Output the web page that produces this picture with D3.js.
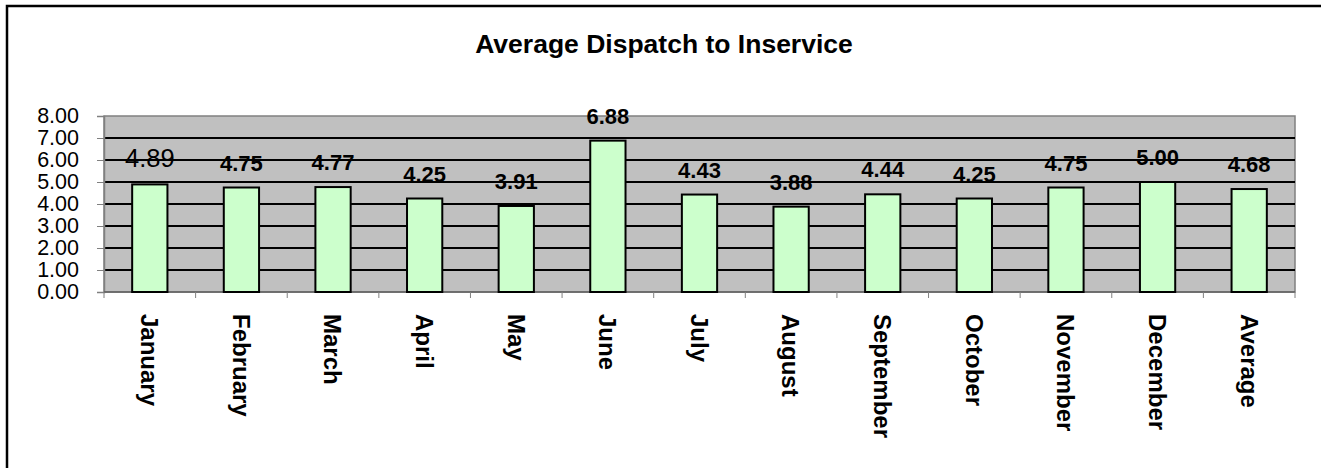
<!DOCTYPE html>
<html lang="en">
<head>
  <meta charset="UTF-8">
  <title>Average Dispatch to Inservice</title>
  <script src="https://d3js.org/d3.v7.min.js"></script>
  <style>
    body {
      margin: 0;
      background: #fff;
      font-family: "Liberation Sans", Arial, sans-serif;
    }
    svg { display: block; }
  </style>
</head>
<body>
<div id="chart"></div>

<script>
  // data
  var months = ["January", "February", "March", "April", "May", "June", "July",
                "August", "September", "October", "November", "December", "Average"];
  var values = [4.89, 4.75, 4.77, 4.25, 3.91, 6.88, 4.43, 3.88, 4.44, 4.25, 4.75, 5.00, 4.68];
  var yTicks = [0, 1, 2, 3, 4, 5, 6, 7, 8];

  var width = 1321;
  var height = 468;
  var plot = { left: 104, right: 1295, top: 116, bottom: 292 };

  var data = months.map(function(m, i) { return { month: m, value: values[i] }; });

  var svg = d3.select("#chart")
    .append("svg")
    .attr("width", width)
    .attr("height", height);

  // outer frame: only the top and left edges are inside the picture
  svg.append("path")
    .attr("d", "M7," + height + "V6H" + width)
    .attr("fill", "none")
    .attr("stroke", "#000")
    .attr("stroke-width", 2.5);

  svg.append("text")
    .attr("x", 664)
    .attr("y", 53)
    .attr("text-anchor", "middle")
    .style("font-size", "26.5px")
    .style("font-weight", "bold")
    .text("Average Dispatch to Inservice");

  var x = d3.scaleBand()
    .domain(months)
    .range([plot.left, plot.right])
    .padding(0);

  var y = d3.scaleLinear()
    .domain([0, 8])
    .range([plot.bottom, plot.top]);

  // plot area
  svg.append("rect")
    .attr("x", plot.left).attr("y", plot.top)
    .attr("width", plot.right - plot.left)
    .attr("height", plot.bottom - plot.top)
    .attr("fill", "#c0c0c0")
    .attr("stroke", "#808080")
    .attr("stroke-width", 1.5);

  // gridlines
  svg.append("g")
    .selectAll("line")
    .data(yTicks.filter(function(d) { return d > 0 && d < 8; }))
    .enter().append("line")
    .attr("x1", plot.left).attr("x2", plot.right)
    .attr("y1", function(d) { return y(d); })
    .attr("y2", function(d) { return y(d); })
    .attr("stroke", "#000")
    .attr("stroke-width", 2);

  // y axis
  var yAxis = svg.append("g")
    .attr("transform", "translate(" + plot.left + ",0)")
    .call(d3.axisLeft(y).tickValues(yTicks).tickFormat(d3.format(".2f")).tickSize(7).tickPadding(18));
  yAxis.select(".domain").attr("stroke", "#808080").attr("stroke-width", 1.5);
  yAxis.selectAll(".tick line").attr("stroke", "#808080");
  yAxis.selectAll(".tick text")
    .attr("fill", "#000")
    .style("font-family", "'Liberation Sans', Arial, sans-serif")
    .style("font-size", "21.5px");

  // x axis: ticks sit on the category boundaries
  var boundaries = months.map(function(m) { return x(m); }).concat([plot.right]);
  svg.append("line")
    .attr("x1", plot.left).attr("x2", plot.right)
    .attr("y1", plot.bottom).attr("y2", plot.bottom)
    .attr("stroke", "#606060")
    .attr("stroke-width", 1.5);
  svg.append("g")
    .selectAll("line")
    .data(boundaries)
    .enter().append("line")
    .attr("x1", function(d) { return d; })
    .attr("x2", function(d) { return d; })
    .attr("y1", plot.bottom)
    .attr("y2", plot.bottom + 6)
    .attr("stroke", "#808080")
    .attr("stroke-width", 1);

  svg.append("g")
    .selectAll("text")
    .data(months)
    .enter().append("text")
    .attr("transform", function(d) {
      return "translate(" + (x(d) + x.bandwidth() / 2) + "," + 314 + ") rotate(90)";
    })
    .attr("dy", "0.36em")
    .style("font-size", "24px")
    .style("font-weight", "bold")
    .text(function(d) { return d; });

  // bars
  var barW = x.bandwidth() * 0.385;
  svg.append("g")
    .selectAll("rect")
    .data(data)
    .enter().append("rect")
    .attr("x", function(d) { return x(d.month) + (x.bandwidth() - barW) / 2; })
    .attr("y", function(d) { return y(d.value); })
    .attr("width", barW)
    .attr("height", function(d) { return y(0) - y(d.value); })
    .attr("fill", "#ccffcc")
    .attr("stroke", "#000")
    .attr("stroke-width", 2);

  // value labels (January's label is plain in the original)
  svg.append("g")
    .selectAll("text")
    .data(data)
    .enter().append("text")
    .attr("x", function(d) { return x(d.month) + x.bandwidth() / 2; })
    .attr("y", function(d) { return y(d.value) - 17; })
    .attr("text-anchor", "middle")
    .style("font-size", function(d, i) { return i === 0 ? "25.5px" : "22px"; })
    .style("font-weight", function(d, i) { return i === 0 ? "normal" : "bold"; })
    .text(function(d) { return d3.format(".2f")(d.value); });
</script>
</body>
</html>
